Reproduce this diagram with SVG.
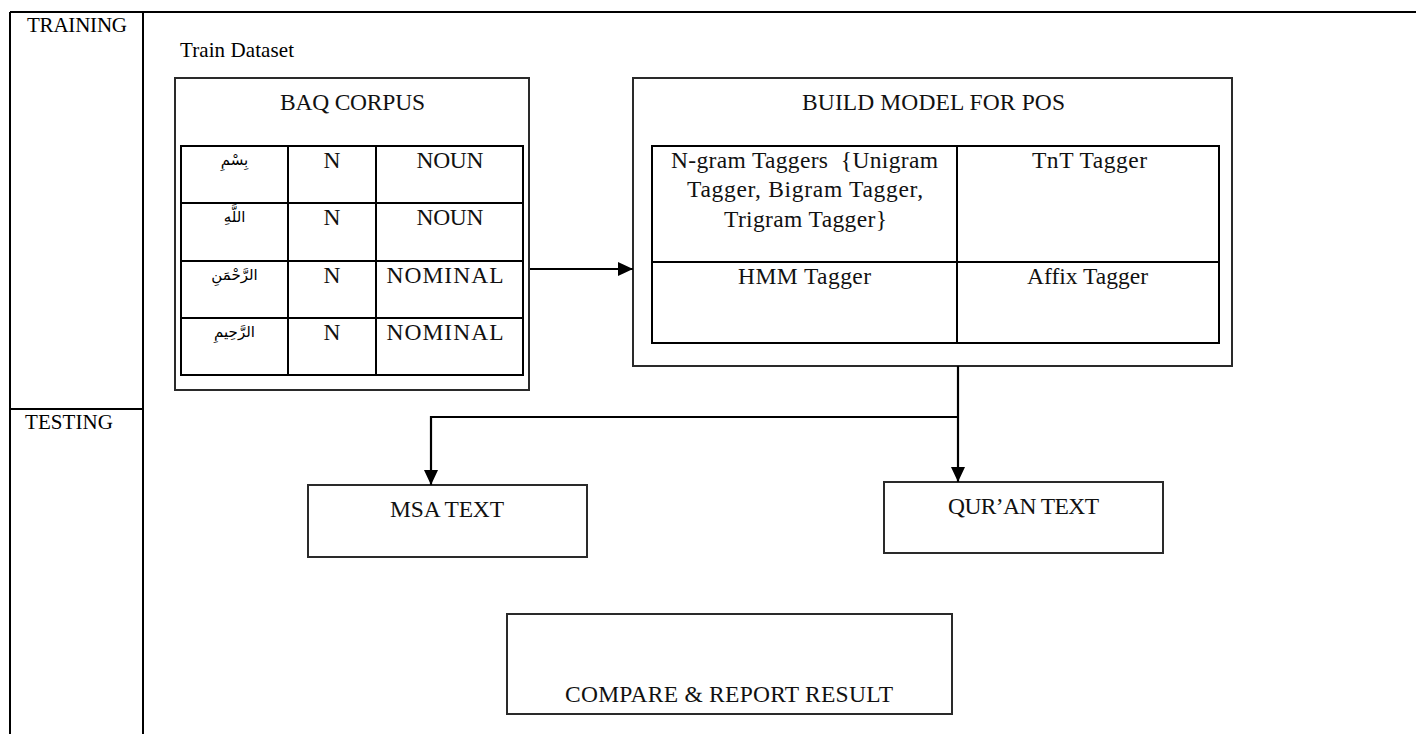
<svg xmlns="http://www.w3.org/2000/svg" width="1416" height="734" viewBox="0 0 1416 734">
<style>
.frame{stroke:#000;stroke-width:2;fill:none}
.box{stroke:#2a2a2a;stroke-width:2;fill:#fff}
.grid{stroke:#000;stroke-width:2;fill:none}
.conn{stroke:#000;stroke-width:2.2;fill:none}
.lbl{font-family:"Liberation Serif","Times New Roman",serif;font-size:21px;fill:#000}
.t{font-family:"Liberation Serif","Times New Roman",serif;font-size:23.5px;fill:#111;text-anchor:middle}
.ar{font-family:"DejaVu Sans","Noto Sans",sans-serif;font-size:15px;fill:#000;text-anchor:middle}
</style>
<defs>
<marker id="arrow" markerUnits="userSpaceOnUse" markerWidth="16" markerHeight="15" refX="15" refY="7" orient="auto">
<path d="M0,0 L15,7 L0,14 z" fill="#000"/>
</marker>
</defs>
<rect width="1416" height="734" fill="#fff"/>
<g id="frame">
<line class="frame" x1="10" y1="12" x2="1416" y2="12"/>
<line class="frame" x1="10" y1="12" x2="10" y2="734"/>
<line class="frame" x1="143" y1="12" x2="143" y2="734"/>
<line class="frame" x1="10" y1="409" x2="143" y2="409"/>
<text class="lbl" x="27" y="32" textLength="100">TRAINING</text>
<text class="lbl" x="25" y="429" textLength="88">TESTING</text>
<text class="lbl" x="180" y="57" textLength="114">Train Dataset</text>
</g>
<g id="baq-corpus">
<rect class="box" x="175" y="78" width="354" height="312"/>
<text class="t" x="352.5" y="110" textLength="145">BAQ CORPUS</text>
<rect class="grid" x="181" y="146" width="342" height="229"/>
<line class="grid" x1="288" y1="146" x2="288" y2="375"/>
<line class="grid" x1="376" y1="146" x2="376" y2="375"/>
<line class="grid" x1="181" y1="203" x2="523" y2="203"/>
<line class="grid" x1="181" y1="261" x2="523" y2="261"/>
<line class="grid" x1="181" y1="318" x2="523" y2="318"/>
<text class="ar" x="234.5" y="165" direction="rtl">بِسْمِ</text>
<text class="ar" x="234.5" y="222" direction="rtl">اللَّهِ</text>
<text class="ar" x="234.5" y="280" direction="rtl">الرَّحْمَنِ</text>
<text class="ar" x="234.5" y="337" direction="rtl">الرَّحِيمِ</text>
<text class="t" x="332" y="168">N</text>
<text class="t" x="332" y="225">N</text>
<text class="t" x="332" y="283">N</text>
<text class="t" x="332" y="340">N</text>
<text class="t" x="450" y="168" textLength="67">NOUN</text>
<text class="t" x="450" y="225" textLength="67">NOUN</text>
<text class="t" x="445" y="283" textLength="117">NOMINAL</text>
<text class="t" x="445" y="340" textLength="117">NOMINAL</text>
</g>
<g id="build-model">
<rect class="box" x="633" y="78" width="599" height="288"/>
<text class="t" x="933.5" y="110" textLength="263">BUILD MODEL FOR POS</text>
<rect class="grid" x="652" y="146" width="567" height="197"/>
<line class="grid" x1="957" y1="146" x2="957" y2="343"/>
<line class="grid" x1="652" y1="262" x2="1219" y2="262"/>
<text class="t" x="804.5" y="168" textLength="267" xml:space="preserve">N-gram Taggers  {Unigram</text>
<text class="t" x="805" y="197" textLength="236">Tagger, Bigram Tagger,</text>
<text class="t" x="805.5" y="227" textLength="163">Trigram Tagger}</text>
<text class="t" x="1089.5" y="168" textLength="115">TnT Tagger</text>
<text class="t" x="804.5" y="284" textLength="133">HMM Tagger</text>
<text class="t" x="1087.5" y="284" textLength="121">Affix Tagger</text>
</g>
<g id="msa-text">
<rect class="box" x="308" y="485" width="279" height="72"/>
<text class="t" x="447" y="517" textLength="114">MSA TEXT</text>
</g>
<g id="quran-text">
<rect class="box" x="884" y="482" width="279" height="71"/>
<text class="t" x="1023.5" y="514" textLength="151">QUR’AN TEXT</text>
</g>
<g id="compare-report">
<rect class="box" x="507" y="614" width="445" height="100"/>
<text class="t" x="729" y="702" textLength="328">COMPARE &amp; REPORT RESULT</text>
</g>
<g id="connectors">
<line class="conn" x1="530" y1="269" x2="633" y2="269" marker-end="url(#arrow)"/>
<line class="conn" x1="958" y1="366" x2="958" y2="482" marker-end="url(#arrow)"/>
<polyline class="conn" points="958,417 431,417 431,485" marker-end="url(#arrow)"/>
</g>
</svg>
